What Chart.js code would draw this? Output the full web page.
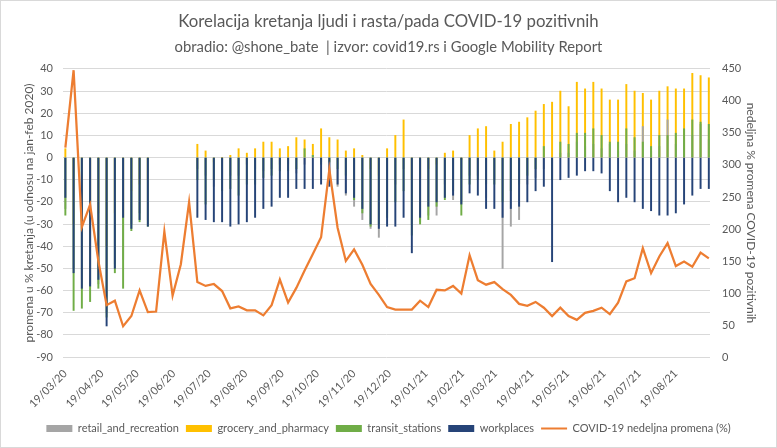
<!DOCTYPE html>
<html>
<head>
<meta charset="utf-8">
<script src="https://cdn.jsdelivr.net/npm/chart.js@4.4.0/dist/chart.umd.min.js"></script>
<style>
	body { margin: 0; background: #fff; }
</style>
</head>
<body>
<canvas id="chart" width="777" height="448"></canvas>
<script>
// weekly values, first week starts 19/03/2020
const startDate = Date.UTC(2020, 2, 19);
const retail = [-23, -50, -55, -57, -57, -70, -48, -46, -30, -25, -28,
	null, null, null, null, null,
	-5, -8, -13, -10, -8, -8, -3, -5, -6, -5, -3, -3, -7, -3, 1, -2, -10, -13, -17, -22,
	-28, -32, -36, -25, -12, -5, -30, -29, -26, -26, -12, -19, -20, -8, -8, -18, -10, -50,
	-31, -28, -12, -9, -5, -10, 2, 2, 7, 5, 6, 4, 6, 3, 6, 3, 14, 3, 5, 17, 6, 8, 10, 15, 8];
const grocery = [4, -30, -30, -20, -25, -40, -25, -27, -15, -12, -10,
	null, null, null, null, null,
	6, 3, -2, 0, 1, 4, 2, 4, 7, 7, 4, 5, 9, 8, 6, 13, 9, 8, 3, 4,
	1, -5, -8, 4, 10, 17, -10, -9, -5, -3, 2, 3, -1, 10, 13, 14, 3, 7,
	15, 16, 18, 21, 24, 25, 30, 23, 34, 31, 34, 31, 26, 26, 33, 30, 29, 26, 30, 32, 31, 31, 38, 37, 36];
const transit = [-26, -69, -68, -65, -59, -72, -52, -59, -33, -29, -31,
	null, null, null, null, null,
	-10, -21, -10, -15, -14, -17, -12, -12, -9, -8, -6, -6, -5, 4, 1, -3, -2, -5, -8, -19,
	-25, -31, -30, -27, -20, -15, -35, -30, -28, -22, -19, -15, -26, -12, -10, -12, -12, -20,
	-15, -12, -8, -5, 5, -10, 7, 6, 11, 11, 13, 10, 7, 7, 13, 9, 7, 5, 10, 10, 11, 13, 17, 16, 15];
const workplaces = [-18, -52, -59, -58, -55, -76, -50, -27, -32, -28, -31,
	null, null, null, null, null,
	-27, -28, -29, -29, -31, -30, -29, -27, -23, -22, -18, -18, -14, -14, -14, -12, -13, -12, -16, -18,
	-23, -30, -32, -31, -31, -27, -43, -27, -22, -20, -18, -17, -21, -16, -17, -23, -23, -27,
	-23, -22, -20, -15, -13, -47, -10, -9, -8, -6, -6, -7, -15, -20, -18, -20, -23, -24, -26, -26, -25, -21, -17, -14, -14];
const covid = [327, 448, 203, 238, 150, 81, 88, 48, 64, 104, 70,
	71, 196, 96, 145, 242,
	117, 111, 114, 103, 76, 79, 73, 73, 65, 81, 121, 85, 108, 135, 161, 187, 293, 202, 150, 168,
	144, 114, 97, 78, 74, 74, 74, 88, 78, 105, 104, 111, 99, 159, 120, 113, 117, 106,
	97, 83, 80, 86, 77, 64, 77, 64, 58, 69, 72, 77, 67, 85, 118, 123, 170, 131, 157, 178, 142, 149, 141, 163, 154];
const tickLabels = ['19/03/20', '19/04/20', '19/05/20', '19/06/20', '19/07/20', '19/08/20', '19/09/20',
	'19/10/20', '19/11/20', '19/12/20', '19/01/21', '19/02/21', '19/03/21', '19/04/21', '19/05/21',
	'19/06/21', '19/07/21', '19/08/21'];

const textColor = '#595959';
const fontName = 'Lato';

// days since start for every tick label
const tickDays = tickLabels.map(function (t) {
	const p = t.split('/');
	return (Date.UTC(2000 + Number(p[2]), Number(p[1]) - 1, Number(p[0])) - startDate) / 86400000;
});

function weekly(values) {
	return values.map((v, i) => ({ x: i * 7, y: v }));
}

function barSet(label, values, color, order) {
	return {
		type: 'bar',
		label: label,
		data: weekly(values),
		backgroundColor: color,
		yAxisID: 'y',
		order: order,
		grouped: false,
		barThickness: 1.3
	};
}

const frame = {
	id: 'frame',
	afterDraw(chart) {
		const ctx = chart.ctx;
		ctx.save();
		ctx.strokeStyle = '#d9d9d9';
		ctx.lineWidth = 1;
		ctx.strokeRect(0.5, 0.5, chart.width - 1, chart.height - 1);
		ctx.restore();
	}
};

new Chart(document.getElementById('chart'), {
	data: {
		datasets: [
			barSet('retail_and_recreation', retail, '#A5A5A5', 3),
			barSet('grocery_and_pharmacy', grocery, '#FFC000', 4),
			barSet('transit_stations', transit, '#70AD47', 2),
			barSet('workplaces', workplaces, '#264478', 1),
			{
				type: 'line',
				label: 'COVID-19 nedeljna promena (%)',
				data: weekly(covid),
				borderColor: '#ED7D31',
				backgroundColor: '#ED7D31',
				borderWidth: 2.25,
				pointRadius: 0,
				tension: 0,
				yAxisID: 'y1',
				order: 0
			}
		]
	},
	plugins: [frame],
	options: {
		responsive: false,
		animation: false,
		layout: { padding: { left: 0, right: 0, top: 0, bottom: 4 } },
		plugins: {
			title: {
				display: true,
				text: 'Korelacija kretanja ljudi i rasta/pada COVID-19 pozitivnih',
				color: textColor,
				font: { family: fontName, size: 16.8, weight: 'normal' },
				padding: { top: 11.8, bottom: 0 }
			},
			subtitle: {
				display: true,
				text: 'obradio: @shone_bate  | izvor: covid19.rs i Google Mobility Report',
				color: textColor,
				font: { family: fontName, size: 14.8, weight: 'normal' },
				padding: { top: 6, bottom: 13.2 }
			},
			legend: {
				position: 'bottom',
				labels: {
					color: textColor,
					font: { family: fontName, size: 11 },
					usePointStyle: true,
					pointStyleWidth: 26,
					boxWidth: 26,
					boxHeight: 7,
					padding: 7,
					sort: (a, b) => a.datasetIndex - b.datasetIndex,
					generateLabels: function (chart) {
						return Chart.defaults.plugins.legend.labels.generateLabels(chart).map(function (item) {
							const isLine = item.datasetIndex === 4;
							item.pointStyle = isLine ? 'line' : 'rect';
							item.lineWidth = isLine ? 2 : 0;
							item.strokeStyle = isLine ? '#ED7D31' : item.fillStyle;
							return item;
						});
					}
				}
			},
			tooltip: { enabled: false }
		},
		scales: {
			x: {
				type: 'linear',
				min: -2,
				max: 547,
				offset: false,
				grid: { display: false },
				border: { display: false },
				afterBuildTicks: function (scale) {
					scale.ticks = tickDays.map(d => ({ value: d }));
				},
				afterFit: function (scale) { scale.height = 59; },
				ticks: {
					autoSkip: false,
					minRotation: 45,
					maxRotation: 45,
					padding: 2,
					color: textColor,
					font: { family: fontName, size: 11 },
					callback: (value, index) => tickLabels[index]
				}
			},
			y: {
				position: 'left',
				min: -90,
				max: 40,
				stacked: false,
				afterFit: function (scale) { scale.width = 63; },
				ticks: { stepSize: 10, padding: 10, color: textColor, font: { family: fontName, size: 11 } },
				grid: { color: '#d9d9d9', drawTicks: false },
				border: { display: false },
				title: {
					display: true,
					text: 'promena u % kretanja (u odnosu na jan-feb 2020)',
					color: textColor,
					font: { family: fontName, size: 12 },
					padding: { top: 22, bottom: 0 }
				}
			},
			y1: {
				position: 'right',
				min: 0,
				max: 450,
				afterFit: function (scale) { scale.width = 67; },
				ticks: { stepSize: 50, padding: 12, color: textColor, font: { family: fontName, size: 11 } },
				grid: { display: false, drawTicks: false },
				border: { display: false },
				title: {
					display: true,
					text: 'nedeljna % promena COVID-19 pozitivnih',
					color: textColor,
					font: { family: fontName, size: 12 },
					padding: { top: 19, bottom: 0 }
				}
			}
		}
	}
});
</script>
</body>
</html>
